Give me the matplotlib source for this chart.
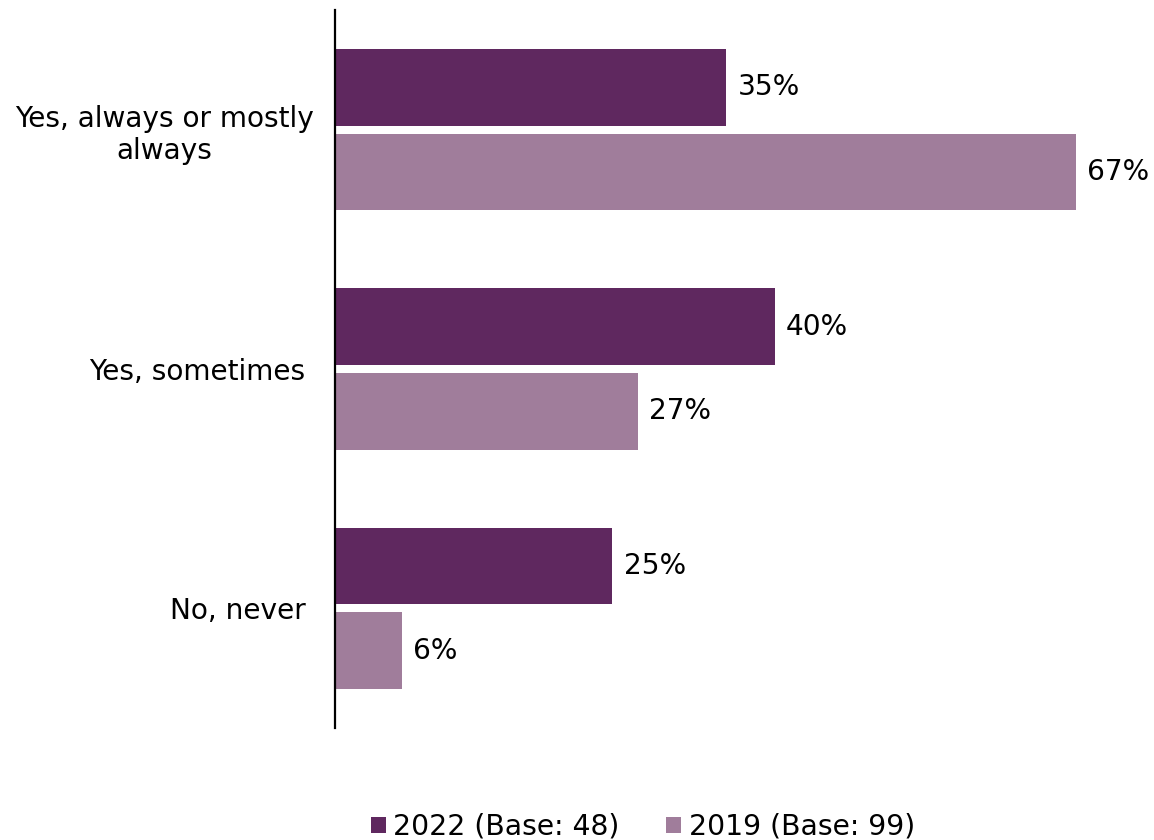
import matplotlib.pyplot as plt
import numpy as np

categories = ["Yes, always or mostly\nalways", "Yes, sometimes ", "No, never "]
# values; labels show rounded percentages
vals_2022 = [35.4, 39.8, 25.1]
vals_2019 = [67.0, 27.4, 6.1]
series_names = ["2022 (Base: 48)", "2019 (Base: 99)"]
dark = "#5F285F"
light = "#A07D9B"

fig = plt.figure(figsize=(11.54, 8.4), dpi=100)
ax = fig.add_axes([335 / 1154, 1 - 728 / 840, 818 / 1154, 718 / 840])

y = np.arange(len(categories))
h = 0.32
off = 0.177
b1 = ax.barh(y - off, vals_2022, height=h, color=dark, label=series_names[0])
b2 = ax.barh(y + off, vals_2019, height=h, color=light, label=series_names[1])

for bars, vals in ((b1, vals_2022), (b2, vals_2019)):
    for rect, v in zip(bars, vals):
        ax.text(rect.get_width() + 1.0, rect.get_y() + rect.get_height() / 2,
                f"{round(v)}%", va="center", ha="left", fontsize=20.2)

ax.set_xlim(0, 74)
ax.set_ylim(2.5, -0.5)
ax.set_yticks(y)
ax.set_yticklabels(categories, fontsize=20.2, multialignment="center")
ax.tick_params(axis="y", length=0, pad=15)
ax.set_xticks([])
for s in ["top", "right", "bottom"]:
    ax.spines[s].set_visible(False)
ax.spines["left"].set_linewidth(1.6)

fig.legend(loc="center", bbox_to_anchor=(643 / 1154, 1 - 827 / 840), ncol=2,
           frameon=False, fontsize=20.3, handlelength=0.52, handleheight=0.52,
           handletextpad=0.28, columnspacing=1.65)

fig.savefig("out.png", dpi=100)
